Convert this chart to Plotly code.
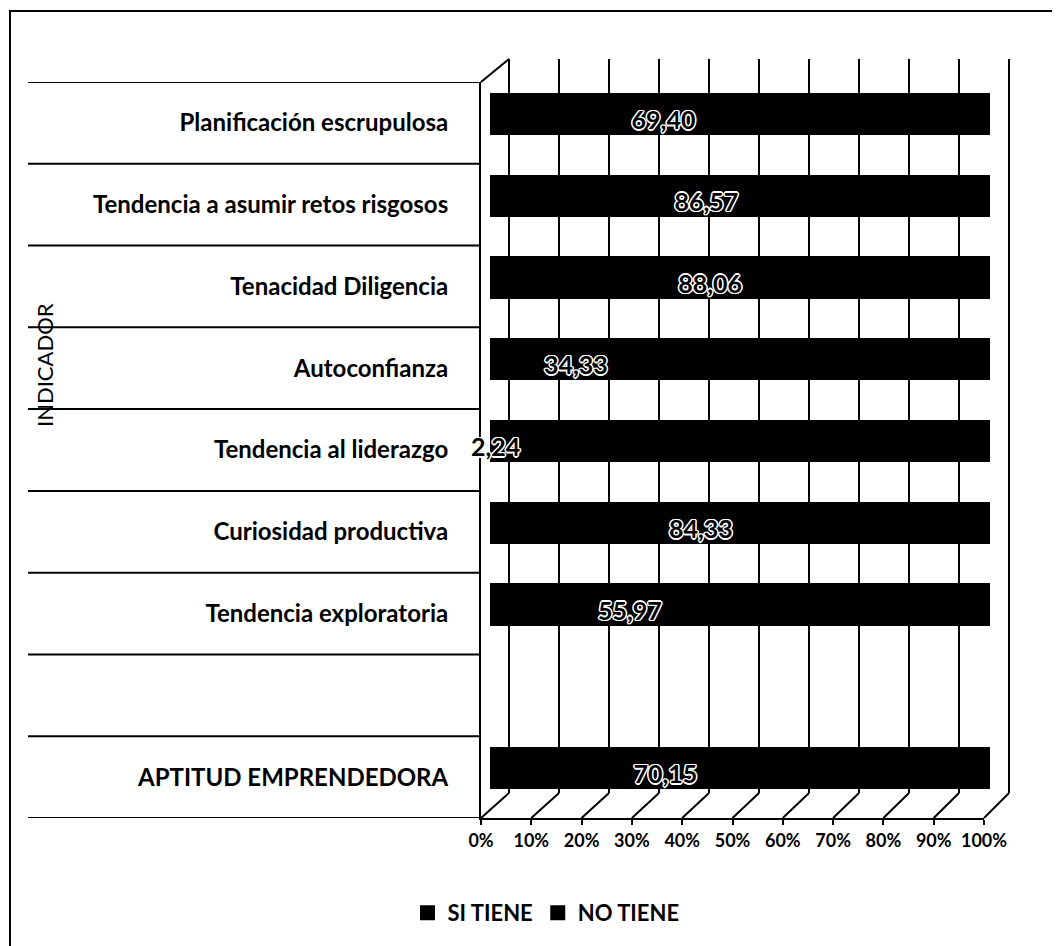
import plotly.graph_objects as go

# ---------------- data ----------------
categories = [
    "Planificación escrupulosa",
    "Tendencia a asumir retos risgosos",
    "Tenacidad Diligencia",
    "Autoconfianza",
    "Tendencia al liderazgo",
    "Curiosidad productiva",
    "Tendencia exploratoria",
    " ",
    "APTITUD EMPRENDEDORA",
]
si_tiene = [69.40, 86.57, 88.06, 34.33, 2.24, 84.33, 55.97, None, 70.15]
no_tiene = [30.60, 13.43, 11.94, 65.67, 97.76, 15.67, 44.03, None, 29.85]
tick_vals = [0, 10, 20, 30, 40, 50, 60, 70, 80, 90, 100]
tick_text = ["0%", "10%", "20%", "30%", "40%", "50%", "60%", "70%", "80%", "90%", "100%"]
series_names = ["SI TIENE", "NO TIENE"]

# ---------------- geometry (pixels on the page) ----------------
W, H = 1060, 946
PAGE_OFF = 8  # default body margin of the html page

def X(px):
    return (px - PAGE_OFF) / W

def Y(py):
    return 1 - (py - PAGE_OFF) / H

FRONT_X0, FRONT_X1 = 481, 984      # front plane 0%..100%
FRONT_TOP, FRONT_BOT = 82, 818
BACK_X0, BACK_X1 = 509, 1009       # back wall 0%..100%
BACK_TOP, BACK_BOT = 59, 793
BAR_X0, BAR_X1 = 490, 990
BAR_SHIFT = 9

FONT = "Lato"
BLACK = "#000000"
OUTLINE = ("white 1px 1px 0px, white -1px -1px 0px, white 1px -1px 0px, "
           "white -1px 1px 0px, white 0px 1.5px 0px, white 0px -1.5px 0px, "
           "white 1.5px 0px 0px, white -1.5px 0px 0px")

fig = go.Figure()

# helper (invisible) trace so the back-wall subplot is drawn first
fig.add_trace(go.Scatter(x=[0, 100], y=[0, 0], xaxis="x", yaxis="y", mode="lines",
                         line=dict(width=0, color="rgba(0,0,0,0)"),
                         showlegend=False, hoverinfo="skip"))

fig.add_trace(go.Bar(
    name=series_names[0], y=categories, x=si_tiene, orientation="h",
    xaxis="x3", yaxis="y3",
    marker=dict(color=BLACK, line=dict(color=BLACK, width=3)),
    hoverinfo="skip",
))
fig.add_trace(go.Bar(
    name=series_names[1], y=categories, x=no_tiene, orientation="h",
    xaxis="x3", yaxis="y3",
    marker=dict(color=BLACK, line=dict(color=BLACK, width=3)),
    hoverinfo="skip",
))

# value labels of SI TIENE, centred on its segment, drawn above the bars
label_x = [v / 2 if v is not None else None for v in si_tiene]
fig.add_trace(go.Scatter(
    x=label_x, y=categories, customdata=si_tiene, xaxis="x4", yaxis="y4",
    mode="text", texttemplate="%{customdata:.2f}", textposition="middle center",
    textfont=dict(family=FONT, size=25, weight="bold", color=BLACK, shadow=OUTLINE),
    cliponaxis=False, showlegend=False, hoverinfo="skip",
))

bw = (BACK_X1 - BACK_X0) / 100.0
layout = dict(
    width=W, height=H,
    margin=dict(l=0, r=0, t=0, b=0, pad=0, autoexpand=False),
    paper_bgcolor="white", plot_bgcolor="rgba(0,0,0,0)",
    separators=",.",
    barmode="stack", bargap=0.52,
    showlegend=True,
    hovermode=False,
    font=dict(family=FONT, color=BLACK),
    xaxis=dict(domain=[X(BACK_X0 - bw), X(BACK_X1 + bw)], range=[-1, 101], anchor="y",
               tickvals=tick_vals, showticklabels=False, ticks="",
               showgrid=True, gridcolor=BLACK, gridwidth=2, automargin=False,
               zeroline=False, showline=False, fixedrange=True),
    yaxis=dict(domain=[Y(BACK_BOT), Y(BACK_TOP)], range=[0, 1], anchor="x",
               showgrid=False, showticklabels=False, zeroline=False, automargin=False,
               showline=False, ticks="", fixedrange=True),
    xaxis2=dict(domain=[X(FRONT_X0), X(FRONT_X1)], range=[0, 100], anchor="y2",
                tickvals=tick_vals, ticktext=tick_text, ticks="outside",
                ticklen=5, tickwidth=2, tickcolor=BLACK, automargin=False,
                showline=True, linecolor=BLACK, linewidth=2,
                showgrid=False, zeroline=False, fixedrange=True,
                tickfont=dict(family=FONT, size=18, weight="bold", color=BLACK)),
    yaxis2=dict(domain=[Y(FRONT_BOT), Y(FRONT_TOP)], range=[len(categories) - 0.5, -0.5],
                anchor="x2", side="left", automargin=False,
                tickvals=list(range(len(categories))), ticktext=categories,
                ticks="", ticklabelstandoff=26,
                showline=True, linecolor=BLACK, linewidth=2,
                showgrid=False, zeroline=False, fixedrange=True,
                tickfont=dict(family=FONT, size=24, weight="bold", color=BLACK)),
    xaxis3=dict(domain=[X(BAR_X0), X(BAR_X1)], range=[0, 100], anchor="y3",
                visible=False, fixedrange=True, automargin=False),
    yaxis3=dict(domain=[Y(FRONT_BOT - BAR_SHIFT), Y(FRONT_TOP - BAR_SHIFT)],
                type="category", categoryorder="array", categoryarray=categories,
                range=[len(categories) - 0.5, -0.5], anchor="x3", automargin=False,
                visible=False, fixedrange=True),
    # label layer: same horizontal scale as the bars, vertical slots of the front plane
    xaxis4=dict(domain=[X(BAR_X0), X(BAR_X1)], range=[0, 100], anchor="y4",
                visible=False, fixedrange=True, automargin=False),
    yaxis4=dict(domain=[Y(FRONT_BOT), Y(FRONT_TOP)],
                type="category", categoryorder="array", categoryarray=categories,
                range=[len(categories) - 0.5, -0.5], anchor="x4", automargin=False,
                visible=False, fixedrange=True),
    legend=dict(orientation="h", x=X(546), xanchor="center", y=Y(913), yanchor="middle",
                font=dict(family=FONT, size=22, weight="bold", color=BLACK),
                itemwidth=30, traceorder="normal", bgcolor="rgba(0,0,0,0)"),
)
fig.update_layout(**layout)

shapes = []
# outer frame
shapes.append(dict(type="rect", xref="paper", yref="paper",
                   x0=X(10), y0=Y(11), x1=1.05, y1=-0.05,
                   line=dict(color=BLACK, width=2), fillcolor="rgba(0,0,0,0)"))
# category separators
for i in range(len(categories) + 1):
    shapes.append(dict(type="line", xref="paper", yref="y2",
                       x0=X(28), x1=X(FRONT_X0), y0=i - 0.5, y1=i - 0.5,
                       line=dict(color=BLACK, width=2)))
# floor slanted lines, from each front tick to its back grid line
for v in tick_vals:
    fx = FRONT_X0 + (FRONT_X1 - FRONT_X0) * v / 100.0
    bx = BACK_X0 + (BACK_X1 - BACK_X0) * v / 100.0
    shapes.append(dict(type="line", xref="paper", yref="paper",
                       x0=X(fx), y0=Y(FRONT_BOT), x1=X(bx), y1=Y(BACK_BOT),
                       line=dict(color=BLACK, width=2)))
# left wall top edge
shapes.append(dict(type="line", xref="paper", yref="paper",
                   x0=X(FRONT_X0), y0=Y(FRONT_TOP), x1=X(BACK_X0), y1=Y(BACK_TOP),
                   line=dict(color=BLACK, width=2)))
fig.update_layout(shapes=shapes)

fig.add_annotation(text="INDICADOR", xref="paper", yref="paper",
                   x=X(45), y=Y(365), xanchor="center", yanchor="middle",
                   textangle=-90, showarrow=False,
                   font=dict(family=FONT, size=22, color=BLACK))

fig.write_html("out.html")
